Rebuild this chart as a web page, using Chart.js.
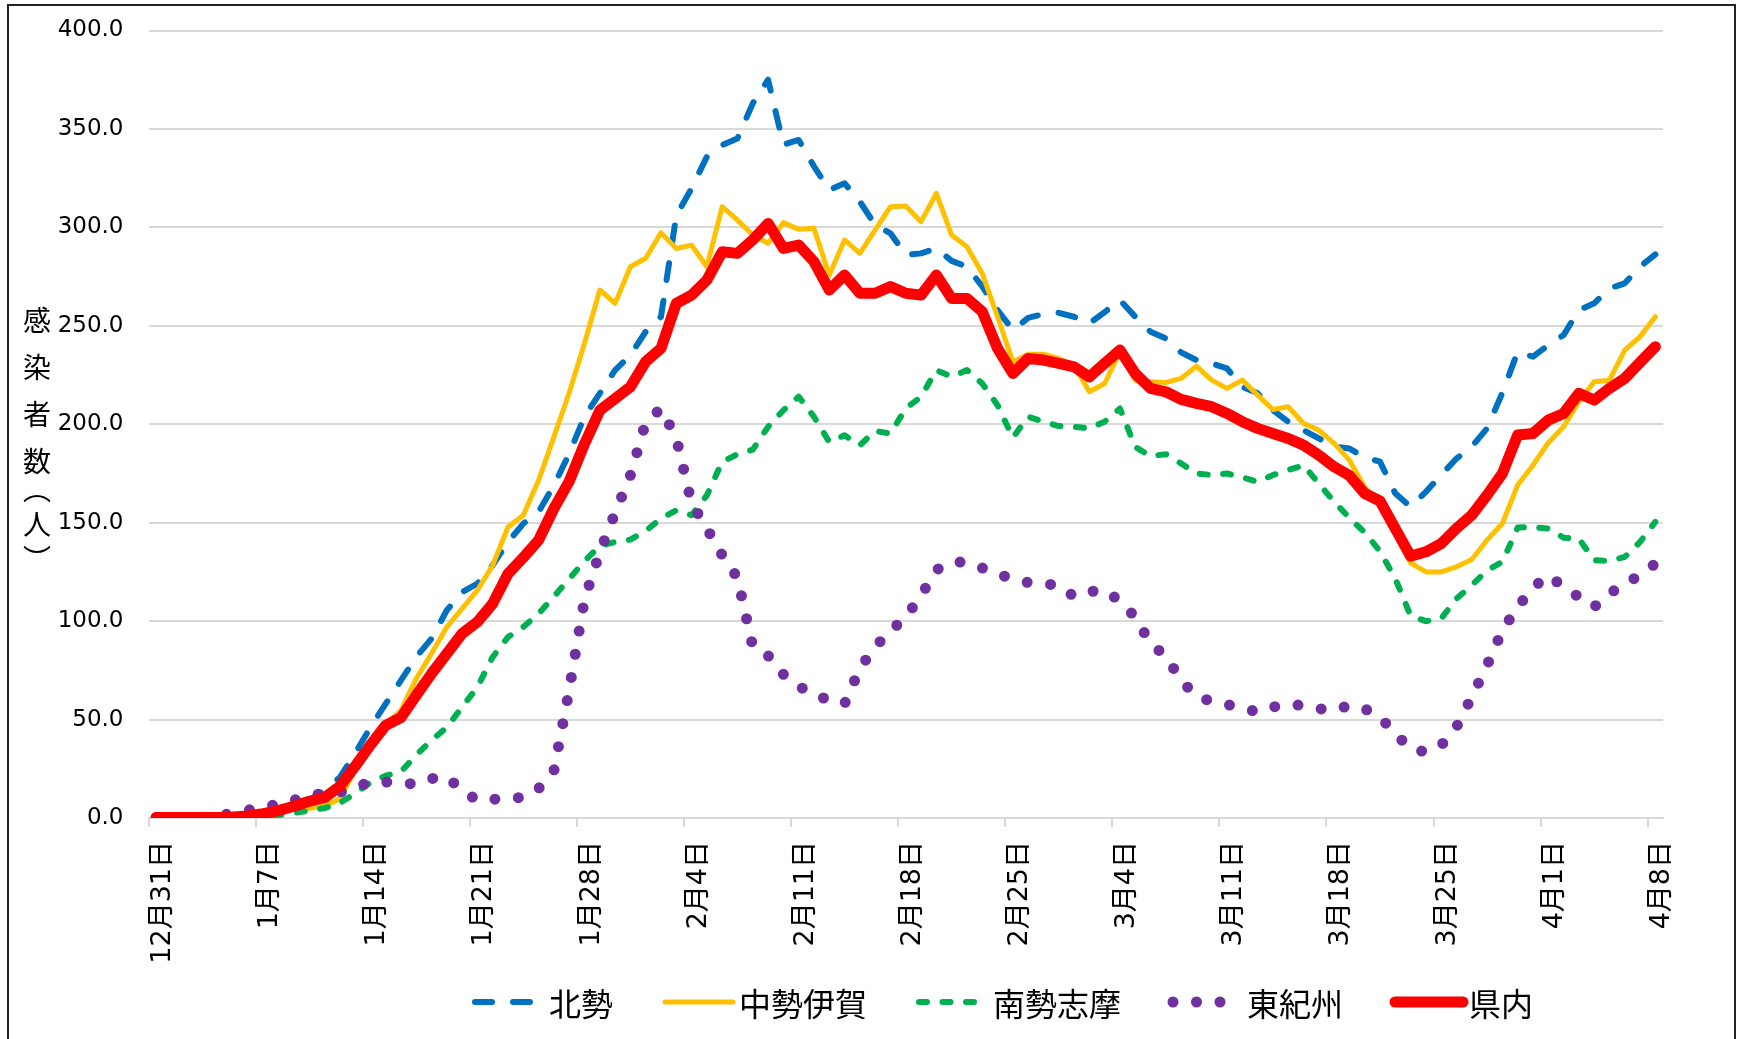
<!DOCTYPE html>
<html lang="ja">
<head>
<meta charset="utf-8">
<title>感染者数</title>
<script src="https://cdn.jsdelivr.net/npm/chart.js@4.4.1/dist/chart.umd.min.js"></script>
<style>
    html, body { margin: 0; padding: 0; background: #fff; overflow: hidden; }
    #wrap { position: relative; width: 1739px; height: 1039px; }
    #frame {
        position: absolute; left: 7px; top: 4px; width: 1729px; height: 1100px;
        border: 2px solid #222; box-sizing: border-box;
    }
    #chart { position: absolute; left: 0; top: 0; }
    #ytitle {
        position: absolute; left: 23px; top: 306px;
        writing-mode: vertical-rl; font: 28px "Noto Sans CJK JP"; line-height: 28px; color: #000;
    }
    #ytitle .wide { letter-spacing: 19px; }
    #ytitle .paren { letter-spacing: 7px; }
    #legend {
        position: absolute; left: 469px; top: 986px;
        display: flex; gap: 46px;
        font: 32px "Noto Sans CJK JP"; line-height: 32px; color: #000;
    }
    .item { display: flex; align-items: center; white-space: nowrap; }
    .item svg { display: block; }
</style>
</head>
<body>
<div id="wrap">
    <div id="frame"></div>
    <canvas id="chart" width="1739" height="1039"></canvas>
    <div id="ytitle"><span class="wide">感染者</span>数<span class="paren">（人）</span></div>
    <div id="legend"></div>
</div>
<script>
// categories (one per day, 12/31 - 4/8)
const dayLabels = [
    '12月31日',
    '1月1日', '1月2日', '1月3日', '1月4日', '1月5日', '1月6日', '1月7日', '1月8日', '1月9日', '1月10日',
    '1月11日', '1月12日', '1月13日', '1月14日', '1月15日', '1月16日', '1月17日', '1月18日', '1月19日', '1月20日',
    '1月21日', '1月22日', '1月23日', '1月24日', '1月25日', '1月26日', '1月27日', '1月28日', '1月29日', '1月30日', '1月31日',
    '2月1日', '2月2日', '2月3日', '2月4日', '2月5日', '2月6日', '2月7日', '2月8日', '2月9日', '2月10日',
    '2月11日', '2月12日', '2月13日', '2月14日', '2月15日', '2月16日', '2月17日', '2月18日', '2月19日', '2月20日',
    '2月21日', '2月22日', '2月23日', '2月24日', '2月25日', '2月26日', '2月27日', '2月28日',
    '3月1日', '3月2日', '3月3日', '3月4日', '3月5日', '3月6日', '3月7日', '3月8日', '3月9日', '3月10日',
    '3月11日', '3月12日', '3月13日', '3月14日', '3月15日', '3月16日', '3月17日', '3月18日', '3月19日', '3月20日',
    '3月21日', '3月22日', '3月23日', '3月24日', '3月25日', '3月26日', '3月27日', '3月28日', '3月29日', '3月30日', '3月31日',
    '4月1日', '4月2日', '4月3日', '4月4日', '4月5日', '4月6日', '4月7日', '4月8日'
];

// series values
const hokusei = [
    0.3, 0.3, 0.3, 0.3, 0.5, 0.8, 1.5, 2.5, 4.0, 6.5,
    9.0, 14.0, 20.5, 32.7, 46.0, 58.0, 69.9, 81.8, 91.1, 105.5,
    114.8, 119.0, 128.4, 140.2, 149.5, 155.5, 169.0, 185.0, 204.0, 215.7,
    227.5, 235.1, 247.0, 254.6, 306.0, 319.8, 335.9, 341.8, 345.2, 363.0,
    375.0, 342.0, 344.4, 331.0, 319.0, 322.4, 313.1, 301.2, 297.0, 286.0,
    286.8, 289.3, 283.0, 280.0, 270.0, 258.0, 247.8, 254.0, 256.0, 256.6,
    254.6, 251.2, 257.0, 263.1, 254.6, 247.0, 243.6, 236.5, 232.6, 230.8,
    228.4, 219.0, 215.7, 207.2, 201.3, 197.0, 192.8, 188.6, 187.7, 183.1,
    181.0, 164.9, 158.1, 165.7, 174.2, 182.6, 188.6, 197.9, 216.0, 236.8,
    234.3, 240.2, 245.3, 258.0, 261.4, 269.0, 271.6, 280.0, 286.3
];
const chuseiIga = [
    0.3, 0.3, 0.3, 0.3, 0.3, 0.5, 0.8, 1.5, 3.0, 4.5,
    5.0, 6.0, 9.8, 24.2, 37.7, 47.6, 54.7, 70.8, 83.5, 97.0,
    106.3, 115.7, 128.4, 147.8, 153.8, 171.5, 193.6, 216.0, 241.1, 268.2,
    261.4, 280.0, 284.3, 297.3, 289.3, 291.0, 280.0, 310.5, 303.7, 296.1,
    291.9, 302.4, 299.0, 299.5, 275.8, 293.6, 286.8, 298.7, 310.5, 310.8,
    302.9, 317.3, 296.1, 290.2, 276.6, 254.6, 231.8, 235.6, 235.6, 233.4,
    230.0, 216.5, 220.7, 236.8, 222.4, 221.6, 221.2, 223.3, 229.5, 222.4,
    218.2, 222.4, 214.8, 207.5, 208.9, 200.4, 197.0, 190.3, 181.8, 168.0,
    160.0, 145.0, 129.6, 125.0, 125.0, 127.6, 131.3, 141.2, 149.6, 169.1,
    179.2, 190.6, 198.7, 211.4, 221.6, 222.4, 237.7, 244.5, 254.6
];
const nanseiShima = [
    0.1, 0.1, 0.1, 0.1, 0.1, 0.2, 0.4, 0.8, 1.5, 2.5,
    3.8, 5.0, 7.5, 12.5, 18.0, 21.5, 23.5, 32.0, 39.5, 46.0,
    56.4, 66.5, 81.8, 91.9, 97.0, 103.8, 112.5, 121.5, 130.5, 138.2,
    140.2, 141.4, 145.8, 152.1, 156.3, 153.8, 163.9, 180.9, 184.8, 187.1,
    198.7, 207.1, 214.0, 203.8, 191.0, 194.4, 189.3, 196.6, 195.3, 208.0,
    214.0, 227.5, 224.1, 227.5, 220.7, 209.7, 193.2, 203.8, 201.3, 199.1,
    198.7, 197.9, 201.3, 208.0, 188.5, 183.8, 184.8, 180.1, 175.0, 174.2,
    175.0, 173.0, 170.8, 174.2, 176.7, 179.2, 169.9, 160.6, 152.5, 145.0,
    135.5, 121.6, 102.7, 100.0, 101.3, 111.4, 118.2, 125.8, 130.1, 147.5,
    147.8, 147.0, 142.4, 141.9, 130.9, 130.6, 132.6, 140.2, 150.4
];
const higashiKishu = [
    0.2, 0.2, 0.2, 0.3, 1.0, 2.5, 4.0, 5.5, 7.0, 9.0,
    11.5, 12.5, 13.0, 15.5, 18.3, 18.3, 17.8, 17.2, 20.0, 21.0,
    14.0, 9.0, 9.5, 10.0, 10.5, 15.0, 24.0, 65.0, 111.0, 135.0,
    155.0, 174.0, 201.0, 208.0, 193.0, 160.0, 147.0, 133.5, 122.0, 87.0,
    82.5, 73.0, 67.0, 62.5, 60.0, 58.0, 76.0, 87.0, 95.0, 102.0,
    113.0, 126.0, 130.0, 130.0, 127.0, 124.0, 121.4, 119.6, 119.0, 118.2,
    112.5, 115.0, 115.7, 110.2, 102.1, 88.6, 82.3, 69.9, 61.8, 59.3,
    57.6, 56.0, 53.8, 56.4, 57.7, 57.2, 55.5, 54.7, 57.2, 55.5,
    51.3, 42.8, 35.2, 33.5, 36.9, 46.2, 61.5, 77.6, 95.3, 107.2,
    117.0, 123.3, 117.4, 112.3, 107.2, 114.0, 119.0, 123.3, 129.2
];
const kennai = [
    0.3, 0.3, 0.3, 0.3, 0.3, 0.5, 1.0, 2.2, 3.8, 6.0,
    8.5, 10.3, 16.1, 26.2, 37.0, 47.0, 51.0, 62.3, 73.3, 83.5,
    93.6, 99.6, 108.9, 124.1, 132.3, 141.1, 157.2, 171.0, 190.0, 207.0,
    213.0, 219.0, 231.8, 238.5, 261.4, 265.6, 273.2, 287.6, 286.8, 293.6,
    302.0, 289.3, 291.0, 282.6, 268.2, 275.8, 266.5, 266.5, 269.9, 266.5,
    265.6, 275.8, 263.9, 263.9, 257.2, 238.5, 225.8, 233.4, 232.6, 230.9,
    229.2, 224.1, 230.9, 237.7, 225.8, 218.2, 216.5, 212.6, 210.6, 208.9,
    205.5, 201.3, 197.9, 195.3, 192.8, 189.4, 184.3, 178.4, 174.0, 164.8,
    161.0, 147.0, 133.0, 135.2, 139.4, 147.1, 153.8, 164.0, 175.0, 194.5,
    195.3, 202.1, 205.5, 215.7, 212.3, 218.2, 223.3, 231.4, 239.4
];

const gridGray = '#d9d9d9';
const tickFamily = '"DejaVu Sans", "Noto Sans CJK JP", sans-serif';

// later entries get a lower order so they are drawn on top (県内 last)
const datasets = [
    { label: '北勢', data: hokusei, borderColor: '#0070C0', borderWidth: 6, borderDash: [17, 21], order: 5 },
    { label: '中勢伊賀', data: chuseiIga, borderColor: '#FFC000', borderWidth: 5, borderDash: [], order: 4 },
    { label: '南勢志摩', data: nanseiShima, borderColor: '#00B050', borderWidth: 6, borderDash: [8, 15.5], order: 3 },
    { label: '東紀州', data: higashiKishu, borderColor: '#7030A0', borderWidth: 11, borderDash: [0, 23.5], order: 2 },
    { label: '県内', data: kennai, borderColor: '#FF0000', borderWidth: 11, borderDash: [], order: 1 }
].map(d => ({
    ...d,
    fill: false,
    tension: 0,
    pointRadius: 0,
    pointHoverRadius: 0,
    borderCapStyle: 'round',
    borderJoinStyle: 'round'
}));

const chart = new Chart(document.getElementById('chart'), {
    type: 'line',
    data: { labels: dayLabels, datasets: datasets },
    options: {
        responsive: false,
        animation: false,
        layout: { padding: { top: 30.5, right: 76, bottom: 0, left: 0 } },
        plugins: {
            legend: { display: false },
            tooltip: { enabled: false }
        },
        scales: {
            x: {
                offset: true,
                grid: {
                    offset: true,
                    drawOnChartArea: false,
                    drawTicks: true,
                    tickLength: 9,
                    lineWidth: 2,
                    tickColor: ctx => (ctx.index % 7 === 0 ? gridGray : 'rgba(0,0,0,0)')
                },
                border: { display: true, color: gridGray, width: 2 },
                ticks: {
                    autoSkip: false,
                    maxRotation: 90,
                    minRotation: 90,
                    padding: 14,
                    labelOffset: 7,
                    color: '#000',
                    font: { family: tickFamily, size: 27 },
                    callback: (value, index) => (index % 7 === 0 ? dayLabels[index] : '')
                },
                afterFit: scale => { scale.height = 221; }
            },
            y: {
                min: 0,
                max: 400,
                grid: { color: gridGray, lineWidth: 2, drawTicks: false },
                border: { display: false },
                ticks: {
                    stepSize: 50,
                    padding: 25,
                    color: '#000',
                    font: { family: tickFamily, size: 23 },
                    callback: v => Number(v).toFixed(1)
                },
                afterFit: scale => {
                    scale.width = 148.5;
                    // the tick padding is horizontal here; don't let it push the plot down
                    scale.paddingTop = 14;
                    scale.paddingBottom = 14;
                }
            }
        }
    }
});

// legend below the plot, built from the dataset styles
const legendEl = document.getElementById('legend');
const svgNS = 'http://www.w3.org/2000/svg';
chart.data.datasets.forEach(ds => {
    const item = document.createElement('div');
    item.className = 'item';
    const svg = document.createElementNS(svgNS, 'svg');
    svg.setAttribute('width', '80');
    svg.setAttribute('height', '24');
    const ln = document.createElementNS(svgNS, 'line');
    ln.setAttribute('x1', '6');
    ln.setAttribute('x2', '74');
    ln.setAttribute('y1', '12');
    ln.setAttribute('y2', '12');
    ln.setAttribute('stroke', ds.borderColor);
    ln.setAttribute('stroke-width', ds.borderWidth);
    ln.setAttribute('stroke-linecap', 'round');
    if (ds.borderDash.length) ln.setAttribute('stroke-dasharray', ds.borderDash.join(' '));
    svg.appendChild(ln);
    const txt = document.createElement('span');
    txt.textContent = ds.label;
    item.appendChild(svg);
    item.appendChild(txt);
    legendEl.appendChild(item);
});
</script>
</body>
</html>
